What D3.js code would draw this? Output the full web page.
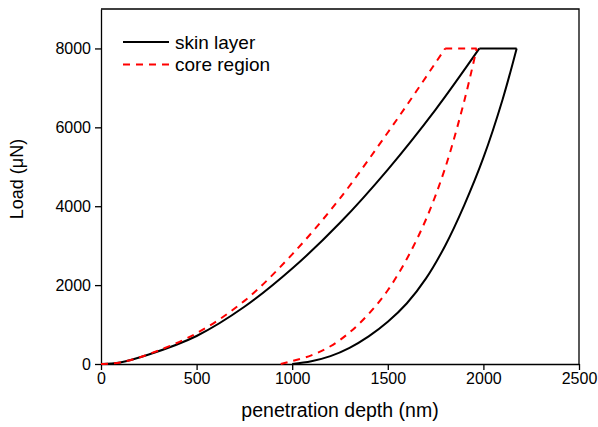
<!DOCTYPE html>
<html><head><meta charset="utf-8">
<script src="https://cdn.jsdelivr.net/npm/d3@7"></script>
<style>body{margin:0;background:#fff}svg text{font-family:"Liberation Sans",Arial,sans-serif;fill:#000}</style>
</head><body><svg id="c" width="598" height="427"></svg>
<script>
// Data (depth nm, load µN)
const skinLoading = [[0,0],[100,40],[250,240],[500,710],[750,1450],[1000,2420],[1250,3580],[1500,4930],[1750,6450],[1979,8000]];
const skinHold = [[1979,8000],[2174,8000]];
const skinUnloading = [[2174,8000],[2100,6700],[2000,5230],[1900,4030],[1800,3000],[1700,2170],[1600,1540],[1500,1070],[1400,700],[1300,410],[1200,200],[1100,70],[1000,0]];
const coreLoading = [[0,0],[100,40],[250,250],[500,780],[750,1600],[1000,2780],[1250,4200],[1500,5870],[1650,6920],[1800,8000]];
const coreHold = [[1800,8000],[1965,8000]];
const coreUnloading = [[1965,8000],[1900,6670],[1800,4970],[1700,3670],[1600,2670],[1500,1870],[1400,1270],[1300,800],[1200,450],[1100,220],[1000,75],[940,0]];
const xTicks = [0,500,1000,1500,2000,2500];
const yTicks = [0,2000,4000,6000,8000];
const legendLabels = ["skin layer","core region"];

const svg = d3.select("#c");
const m = {l:101, r:579, t:9, b:364};
const x = d3.scaleLinear().domain([0,2500]).range([m.l,m.r]);
const y = d3.scaleLinear().domain([0,9000]).range([m.b,m.t]);

const xa = svg.append("g").attr("transform",`translate(0,${m.b})`)
  .call(d3.axisBottom(x).tickValues(xTicks).tickSize(6).tickSizeOuter(0).tickPadding(3).tickFormat(d3.format("d")));
const ya = svg.append("g").attr("transform",`translate(${m.l},0)`)
  .call(d3.axisLeft(y).tickValues(yTicks).tickSize(6).tickSizeOuter(0).tickPadding(4).tickFormat(d3.format("d")));
[xa,ya].forEach(a=>{
  a.select(".domain").attr("stroke","#000").attr("stroke-width",1.3);
  a.selectAll(".tick line").attr("stroke","#000").attr("stroke-width",1.3);
  a.selectAll(".tick text").attr("font-size",16).attr("font-family","Liberation Sans, Arial, sans-serif").attr("fill","#000");
});
// top and right frame
svg.append("path").attr("d",`M${m.l},${m.t}H${m.r}V${m.b}`)
  .attr("fill","none").attr("stroke","#000").attr("stroke-width",1.3);

svg.append("text").attr("x",(m.l+m.r)/2).attr("y",417).attr("text-anchor","middle")
  .attr("font-size",19.5).text("penetration depth (nm)");
svg.append("text").attr("transform","translate(23,179) rotate(-90)").attr("text-anchor","middle")
  .attr("font-size",18).text("Load (μN)");

const curve = d3.line().x(d=>x(d[0])).y(d=>y(d[1])).curve(d3.curveCatmullRom.alpha(0.5));
const lin = d3.line().x(d=>x(d[0])).y(d=>y(d[1]));
const g = svg.append("g");
function draw(data, gen, color, dash){
  const pts = data.slice().sort((a,b)=>a[0]-b[0]);
  g.append("path").datum(pts).attr("d",gen).attr("fill","none").attr("stroke",color)
   .attr("stroke-width",2).attr("stroke-dasharray",dash||null);
}
draw(skinLoading,curve,"#000");
draw(skinHold,lin,"#000");
draw(skinUnloading,curve,"#000");
draw(coreLoading,curve,"#f00","7,6");
draw(coreHold,lin,"#f00","7,6");
draw(coreUnloading,curve,"#f00","7,6");

// legend
const leg = [{c:"#000",d:null},{c:"#f00",d:"7,6"}];
legendLabels.forEach((t,i)=>{
  const yy = 42 + i*22.5;
  svg.append("line").attr("x1",123).attr("x2",169).attr("y1",yy).attr("y2",yy)
    .attr("stroke",leg[i].c).attr("stroke-width",2).attr("stroke-dasharray",leg[i].d);
  svg.append("text").attr("x",175).attr("y",yy+6.5).attr("font-size",19).text(t);
});
</script></body></html>
